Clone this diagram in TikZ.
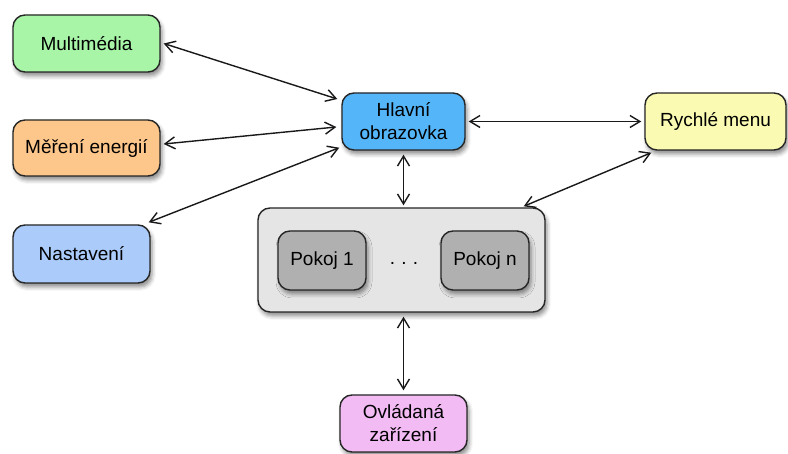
\documentclass[tikz,border=0pt]{standalone}
\usepackage{fontspec}
\setmainfont{Liberation Sans}
\usetikzlibrary{arrows.meta,shadows.blur,calc}
\definecolor{cmm}{HTML}{A8F5A8}
\definecolor{cme}{HTML}{FDC78C}
\definecolor{cna}{HTML}{ABCBFA}
\definecolor{chl}{HTML}{55B5F9}
\definecolor{cry}{HTML}{FAFAB2}
\definecolor{cov}{HTML}{F2BBF4}
\definecolor{cco}{HTML}{E5E5E5}
\definecolor{cpk}{HTML}{B0B0B0}
\tikzset{
  box/.style={draw=black!85, line width=1.4pt, rounded corners=12pt, inner sep=0pt,
    align=center, font=\fontsize{19}{23}\selectfont,
    blur shadow={shadow xshift=2pt, shadow yshift=-4pt, shadow blur radius=4pt, shadow opacity=45}},
  arr/.style={line width=1.4pt, black!90, {Straight Barb[length=10pt,width=12pt]}-{Straight Barb[length=10pt,width=12pt]}}
}
\begin{document}
\begin{tikzpicture}[x=1pt,y=1pt]
\useasboundingbox (0,0) rectangle (788,454);
\node[box, fill=cmm, minimum width=147pt, minimum height=57pt] (mm) at (86.5,410.5) {Multimédia};
\node[box, fill=cme, minimum width=147pt, minimum height=56pt] (me) at (86.5,306) {Měření energií};
\node[box, fill=cna, minimum width=137pt, minimum height=58pt] (na) at (81.5,200) {Nastavení};
\node[box, fill=chl, minimum width=123pt, minimum height=57pt] (hl) at (403.5,332.5) {Hlavní\\obrazovka};
\node[box, fill=cry, minimum width=141pt, minimum height=57pt] (ry) at (715.5,332.5) {Rychlé menu};
\node[box, fill=cco, minimum width=287pt, minimum height=104pt] (co) at (401.5,194) {};
\node[box, fill=cpk, minimum width=88pt, minimum height=59pt] (p1) at (322,193.5) {Pokoj 1};
\node[box, fill=cpk, minimum width=88pt, minimum height=59pt] (pn) at (485,193.5) {Pokoj n};
\node[font=\fontsize{19}{23}\selectfont] (dots) at (404,191) {.\,\,.\,\,.};
\node[box, fill=cov, minimum width=127pt, minimum height=57pt] (ov) at (403.5,30.5) {Ovládaná\\zařízení};

\draw[arr] ([xshift=3pt]mm.east) -- ([xshift=-4pt,yshift=22.5pt]hl.west);
\draw[arr] ([xshift=3pt,yshift=4pt]me.east) -- ([xshift=-5pt,yshift=-5.5pt]hl.west);
\draw[arr] ([xshift=-2pt,yshift=2pt]na.north east) -- ([xshift=-2pt,yshift=3pt]hl.south west);
\draw[arr] ([xshift=3pt]hl.east) -- ([xshift=-3pt]ry.west);
\draw[arr] ([yshift=-4pt]hl.south) -- ([yshift=2pt]hl.south |- co.north);
\draw[arr] ([xshift=-22pt,yshift=1pt]co.north east) -- ([xshift=7pt,yshift=-2pt]ry.south west);
\draw[arr] ([yshift=-4pt]hl.south |- co.south) -- ([yshift=4pt]hl.south |- ov.north);
\end{tikzpicture}
\end{document}
